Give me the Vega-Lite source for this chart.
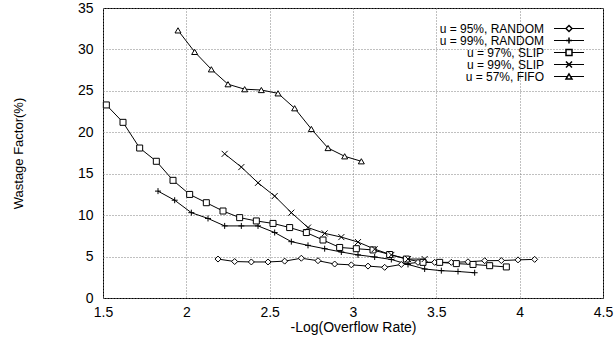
{
  "$schema": "https://vega.github.io/schema/vega-lite/v6.json",
  "width": 500,
  "height": 290,
  "autosize": {"type": "none"},
  "padding": {"left": 103, "top": 8, "right": 11, "bottom": 41},
  "background": "white",
  "config": {
    "font": "Liberation Sans",
    "view": {"stroke": "black", "strokeWidth": 1},
    "axis": {
      "grid": true,
      "gridColor": "#808080",
      "gridDash": [1, 2],
      "gridWidth": 1,
      "gridOpacity": 1,
      "domain": false,
      "ticks": false,
      "labelFontSize": 14,
      "labelColor": "black",
      "labelFlush": false,
      "labelOverlap": false,
      "labelBound": false,
      "titleFontSize": 14,
      "titleFontWeight": "normal",
      "titleColor": "black"
    }
  },
  "data": {
    "values": [
      {"series": "u = 95%, RANDOM", "x": 2.19, "y": 4.7},
      {"series": "u = 95%, RANDOM", "x": 2.29, "y": 4.4},
      {"series": "u = 95%, RANDOM", "x": 2.39, "y": 4.35},
      {"series": "u = 95%, RANDOM", "x": 2.49, "y": 4.35},
      {"series": "u = 95%, RANDOM", "x": 2.59, "y": 4.45},
      {"series": "u = 95%, RANDOM", "x": 2.69, "y": 4.8},
      {"series": "u = 95%, RANDOM", "x": 2.79, "y": 4.5},
      {"series": "u = 95%, RANDOM", "x": 2.89, "y": 4.1},
      {"series": "u = 95%, RANDOM", "x": 2.99, "y": 4.0},
      {"series": "u = 95%, RANDOM", "x": 3.09, "y": 3.85},
      {"series": "u = 95%, RANDOM", "x": 3.19, "y": 3.7},
      {"series": "u = 95%, RANDOM", "x": 3.29, "y": 4.05},
      {"series": "u = 95%, RANDOM", "x": 3.39, "y": 4.3},
      {"series": "u = 95%, RANDOM", "x": 3.49, "y": 4.3},
      {"series": "u = 95%, RANDOM", "x": 3.59, "y": 4.3},
      {"series": "u = 95%, RANDOM", "x": 3.69, "y": 4.37},
      {"series": "u = 95%, RANDOM", "x": 3.79, "y": 4.5},
      {"series": "u = 95%, RANDOM", "x": 3.89, "y": 4.52},
      {"series": "u = 95%, RANDOM", "x": 3.99, "y": 4.6},
      {"series": "u = 95%, RANDOM", "x": 4.09, "y": 4.66},
      {"series": "u = 99%, RANDOM", "x": 1.83, "y": 12.9},
      {"series": "u = 99%, RANDOM", "x": 1.93, "y": 11.8},
      {"series": "u = 99%, RANDOM", "x": 2.03, "y": 10.3},
      {"series": "u = 99%, RANDOM", "x": 2.13, "y": 9.6},
      {"series": "u = 99%, RANDOM", "x": 2.23, "y": 8.7},
      {"series": "u = 99%, RANDOM", "x": 2.33, "y": 8.7},
      {"series": "u = 99%, RANDOM", "x": 2.43, "y": 8.7},
      {"series": "u = 99%, RANDOM", "x": 2.53, "y": 7.9},
      {"series": "u = 99%, RANDOM", "x": 2.63, "y": 6.8},
      {"series": "u = 99%, RANDOM", "x": 2.73, "y": 6.35},
      {"series": "u = 99%, RANDOM", "x": 2.83, "y": 5.95},
      {"series": "u = 99%, RANDOM", "x": 2.93, "y": 5.55},
      {"series": "u = 99%, RANDOM", "x": 3.03, "y": 5.2},
      {"series": "u = 99%, RANDOM", "x": 3.13, "y": 4.95},
      {"series": "u = 99%, RANDOM", "x": 3.23, "y": 4.65},
      {"series": "u = 99%, RANDOM", "x": 3.33, "y": 4.05},
      {"series": "u = 99%, RANDOM", "x": 3.43, "y": 3.5},
      {"series": "u = 99%, RANDOM", "x": 3.53, "y": 3.3},
      {"series": "u = 99%, RANDOM", "x": 3.63, "y": 3.2},
      {"series": "u = 99%, RANDOM", "x": 3.73, "y": 3.05},
      {"series": "u = 97%, SLIP", "x": 1.52, "y": 23.3},
      {"series": "u = 97%, SLIP", "x": 1.62, "y": 21.2},
      {"series": "u = 97%, SLIP", "x": 1.72, "y": 18.1},
      {"series": "u = 97%, SLIP", "x": 1.82, "y": 16.5},
      {"series": "u = 97%, SLIP", "x": 1.92, "y": 14.2},
      {"series": "u = 97%, SLIP", "x": 2.02, "y": 12.5},
      {"series": "u = 97%, SLIP", "x": 2.12, "y": 11.5},
      {"series": "u = 97%, SLIP", "x": 2.22, "y": 10.5},
      {"series": "u = 97%, SLIP", "x": 2.32, "y": 9.7},
      {"series": "u = 97%, SLIP", "x": 2.42, "y": 9.3},
      {"series": "u = 97%, SLIP", "x": 2.52, "y": 9.0},
      {"series": "u = 97%, SLIP", "x": 2.62, "y": 8.5},
      {"series": "u = 97%, SLIP", "x": 2.72, "y": 7.9},
      {"series": "u = 97%, SLIP", "x": 2.82, "y": 7.0},
      {"series": "u = 97%, SLIP", "x": 2.92, "y": 6.1},
      {"series": "u = 97%, SLIP", "x": 3.02, "y": 5.95},
      {"series": "u = 97%, SLIP", "x": 3.12, "y": 5.8},
      {"series": "u = 97%, SLIP", "x": 3.22, "y": 5.25},
      {"series": "u = 97%, SLIP", "x": 3.32, "y": 4.7},
      {"series": "u = 97%, SLIP", "x": 3.42, "y": 4.3},
      {"series": "u = 97%, SLIP", "x": 3.52, "y": 4.3},
      {"series": "u = 97%, SLIP", "x": 3.62, "y": 4.15},
      {"series": "u = 97%, SLIP", "x": 3.72, "y": 4.05},
      {"series": "u = 97%, SLIP", "x": 3.82, "y": 3.9},
      {"series": "u = 97%, SLIP", "x": 3.92, "y": 3.75},
      {"series": "u = 99%, SLIP", "x": 2.23, "y": 17.4},
      {"series": "u = 99%, SLIP", "x": 2.33, "y": 15.8},
      {"series": "u = 99%, SLIP", "x": 2.43, "y": 13.9},
      {"series": "u = 99%, SLIP", "x": 2.53, "y": 12.3},
      {"series": "u = 99%, SLIP", "x": 2.63, "y": 10.3},
      {"series": "u = 99%, SLIP", "x": 2.73, "y": 8.5},
      {"series": "u = 99%, SLIP", "x": 2.83, "y": 7.8},
      {"series": "u = 99%, SLIP", "x": 2.93, "y": 7.35},
      {"series": "u = 99%, SLIP", "x": 3.03, "y": 6.75},
      {"series": "u = 99%, SLIP", "x": 3.13, "y": 5.9},
      {"series": "u = 99%, SLIP", "x": 3.23, "y": 5.2},
      {"series": "u = 99%, SLIP", "x": 3.33, "y": 4.7},
      {"series": "u = 99%, SLIP", "x": 3.43, "y": 4.7},
      {"series": "u = 57%, FIFO", "x": 1.95, "y": 32.3},
      {"series": "u = 57%, FIFO", "x": 2.05, "y": 29.7},
      {"series": "u = 57%, FIFO", "x": 2.15, "y": 27.6},
      {"series": "u = 57%, FIFO", "x": 2.25, "y": 25.8},
      {"series": "u = 57%, FIFO", "x": 2.35, "y": 25.2},
      {"series": "u = 57%, FIFO", "x": 2.45, "y": 25.1},
      {"series": "u = 57%, FIFO", "x": 2.55, "y": 24.7},
      {"series": "u = 57%, FIFO", "x": 2.65, "y": 22.9},
      {"series": "u = 57%, FIFO", "x": 2.75, "y": 20.4},
      {"series": "u = 57%, FIFO", "x": 2.85, "y": 18.1},
      {"series": "u = 57%, FIFO", "x": 2.95, "y": 17.1},
      {"series": "u = 57%, FIFO", "x": 3.05, "y": 16.5}
    ]
  },
  "encoding": {
    "x": {
      "field": "x",
      "type": "quantitative",
      "scale": {"domain": [1.5, 4.5], "nice": false, "zero": false},
      "axis": {
        "values": [1.5, 2, 2.5, 3, 3.5, 4, 4.5],
        "format": "~g",
        "labelPadding": 7,
        "title": "-Log(Overflow Rate)",
        "titleX": 250,
        "titleY": 33,
        "titleBaseline": "alphabetic",
        "titleAlign": "center"
      }
    },
    "y": {
      "field": "y",
      "type": "quantitative",
      "scale": {"domain": [0, 35], "nice": false},
      "axis": {
        "values": [0, 5, 10, 15, 20, 25, 30, 35],
        "labelPadding": 10,
        "title": "Wastage Factor(%)",
        "titleFontSize": 13,
        "titleAngle": -90,
        "titleX": -81,
        "titleY": 145,
        "titleBaseline": "alphabetic",
        "titleAlign": "center"
      }
    }
  },
  "layer": [
    {
      "mark": {"type": "line", "strokeWidth": 1},
      "encoding": {
        "color": {
          "field": "series",
          "type": "nominal",
          "scale": {
            "domain": ["u = 95%, RANDOM", "u = 99%, RANDOM", "u = 97%, SLIP", "u = 99%, SLIP", "u = 57%, FIFO"],
            "range": ["black", "black", "black", "black", "black"]
          },
          "legend": {
            "orient": "none",
            "legendX": 460,
            "legendY": 14.5,
            "title": null,
            "symbolType": "M-5,0H5",
            "symbolSize": 36,
            "symbolStrokeWidth": 1,
            "labelAlign": "right",
            "labelOffset": -31,
            "labelFontSize": 12,
            "rowPadding": 0,
            "padding": 0
          }
        }
      }
    },
    {
      "mark": {"type": "point", "filled": true, "fill": "white", "stroke": "black", "strokeWidth": 1, "size": 36, "opacity": 1},
      "encoding": {
        "shape": {
          "field": "series",
          "type": "nominal",
          "sort": ["u = 95%, RANDOM", "u = 99%, RANDOM", "u = 97%, SLIP", "u = 99%, SLIP", "u = 57%, FIFO"],
          "scale": {
            "range": ["diamond", "M-1,0H1M0,-1V1", "square", "M-1,-1L1,1M-1,1L1,-1", "triangle-up"]
          },
          "legend": {
            "orient": "none",
            "legendX": 460,
            "legendY": 14.5,
            "title": null,
            "symbolSize": 36,
            "labelAlign": "right",
            "labelOffset": -31,
            "labelFontSize": 12,
            "labelExpr": "' '",
            "labelOpacity": 0,
            "rowPadding": 0,
            "padding": 0
          }
        }
      }
    }
  ]
}
